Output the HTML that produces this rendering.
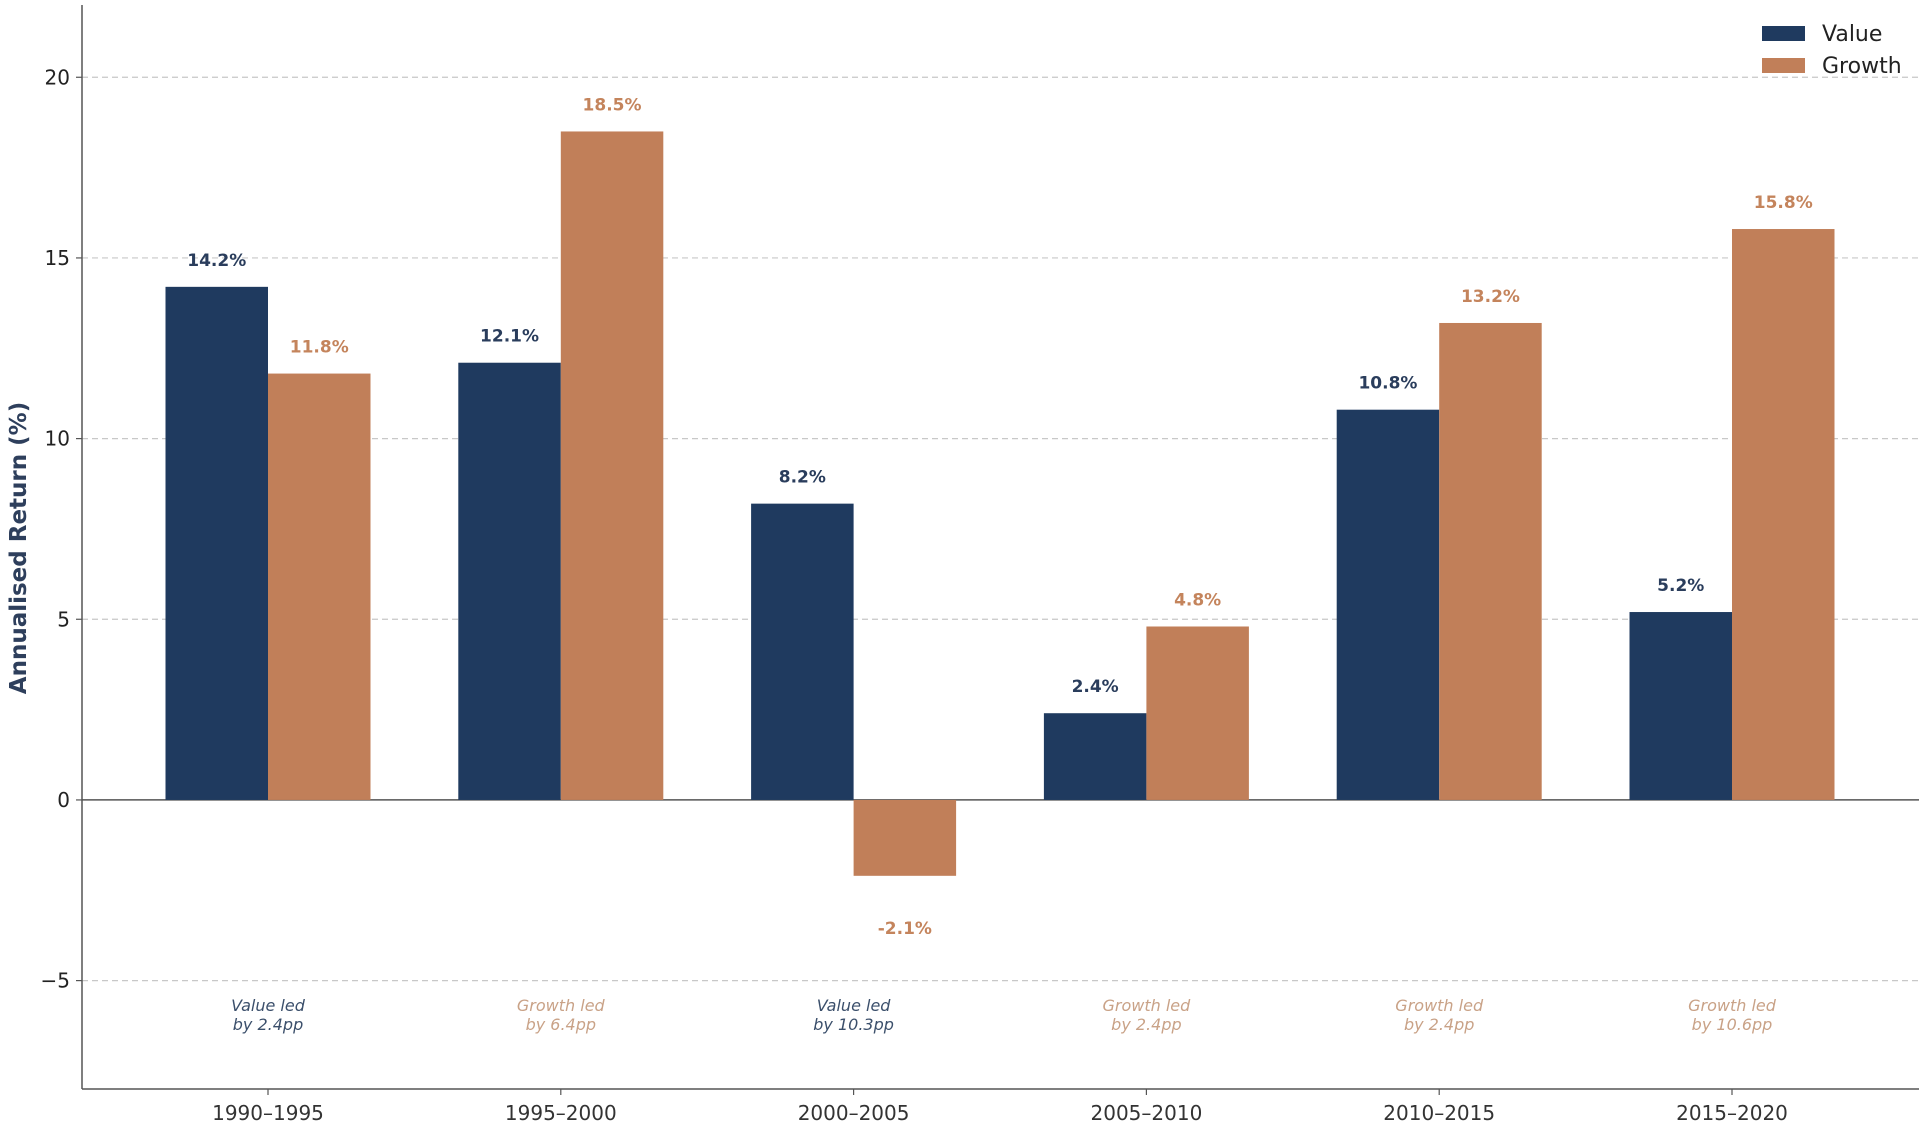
<!DOCTYPE html>
<html><head><meta charset="utf-8"><style>
body{margin:0;background:#fff}
svg{display:block;font-family:"DejaVu Sans","Liberation Sans",sans-serif}
</style></head><body>
<svg id="chart" width="1925" height="1129" viewBox="0 0 1925 1129"></svg>
<script>
const categories=["1990–1995","1995–2000","2000–2005","2005–2010","2010–2015","2015–2020"];
const valueSeries=[14.2,12.1,8.2,2.4,10.8,5.2];
const growthSeries=[11.8,18.5,-2.1,4.8,13.2,15.8];
const yTicks=[-5,0,5,10,15,20];
const VC="#1f3a5f",GC="#c17f59";
const svg=document.getElementById('chart');
const NS="http://www.w3.org/2000/svg";
const L=82,R=1919,T=5,B=1089,yMin=-8,yMax=22;
const y=v=>T+(yMax-v)*(B-T)/(yMax-yMin);
const x=i=>268+i*292.8;
const BW=102.5;
function mk(tag,attrs,txt){const e=document.createElementNS(NS,tag);for(const k in attrs)e.setAttribute(k,attrs[k]);if(txt!==undefined)e.textContent=txt;svg.appendChild(e);return e;}
yTicks.forEach(t=>{
  let g=mk('line',{x1:L,x2:R,y1:y(t),y2:y(t),stroke:t===0?'#555':'#c8c8c8','stroke-width':t===0?1.5:1.2,'stroke-dasharray':t===0?'':'6,4'});
  
  
  let tk=mk('line',{x1:L-6,x2:L,y1:y(t),y2:y(t),stroke:'#555','stroke-width':1.2});
  
  
  let lb=mk('text',{x:L-12,y:y(t)+7,'text-anchor':'end','font-size':20,fill:'#222'},t<0?'−'+Math.abs(t):String(t));
  
  
});
categories.forEach((c,i)=>{
  const cx=x(i);
  [[valueSeries[i],cx-BW,VC,'value','#2a3d5c'],[growthSeries[i],cx,GC,'growth','#c4845c']].forEach(([v,bx,col,nm,tc])=>{
    const top=Math.min(y(v),y(0)),h=Math.abs(y(v)-y(0));
    let r=mk('rect',{x:bx,y:top,width:BW,height:h,fill:col});
    
    
    const ly=v>=0?y(v)-21:y(v)+58;
    let t=mk('text',{x:bx+BW/2,y:ly,'text-anchor':'middle','font-size':17,'font-weight':'bold',fill:tc},v.toFixed(1)+'%');
    
    
  });
  const d=valueSeries[i]-growthSeries[i];
  const lead=d>=0?'Value':'Growth',ac=d>=0?'#3b4f6b':'#c9a287';
  let a1=mk('text',{x:cx,y:1011,'text-anchor':'middle','font-size':16,'font-style':'italic',fill:ac},lead+' led');
  
  
  let a2=mk('text',{x:cx,y:1030,'text-anchor':'middle','font-size':16,'font-style':'italic',fill:ac},'by '+Math.abs(d).toFixed(1)+'pp');
  
  
  let tk=mk('line',{x1:cx,x2:cx,y1:B,y2:B+6,stroke:'#555','stroke-width':1.2});
  
  
  let xl=mk('text',{x:cx,y:1120,'text-anchor':'middle','font-size':20,fill:'#333'},c);
  
  
});
let ax=mk('line',{x1:L,x2:L,y1:T,y2:B,stroke:'#555','stroke-width':1.5});


let bx=mk('line',{x1:L,x2:R,y1:B,y2:B,stroke:'#555','stroke-width':1.5});


let yt=mk('text',{x:0,y:0,transform:'translate(26,548) rotate(-90)','text-anchor':'middle','font-size':23,'font-weight':'bold',fill:'#2e3f5c'},'Annualised Return (%)');


[['Value',VC,26],['Growth',GC,58]].forEach(([n,c,yy])=>{
  let p=mk('rect',{x:1762,y:yy,width:43,height:15,fill:c});
  
  
  let t=mk('text',{x:1822,y:yy+15,'font-size':22,fill:'#222'},n);
  
  
});
</script>
</body></html>
